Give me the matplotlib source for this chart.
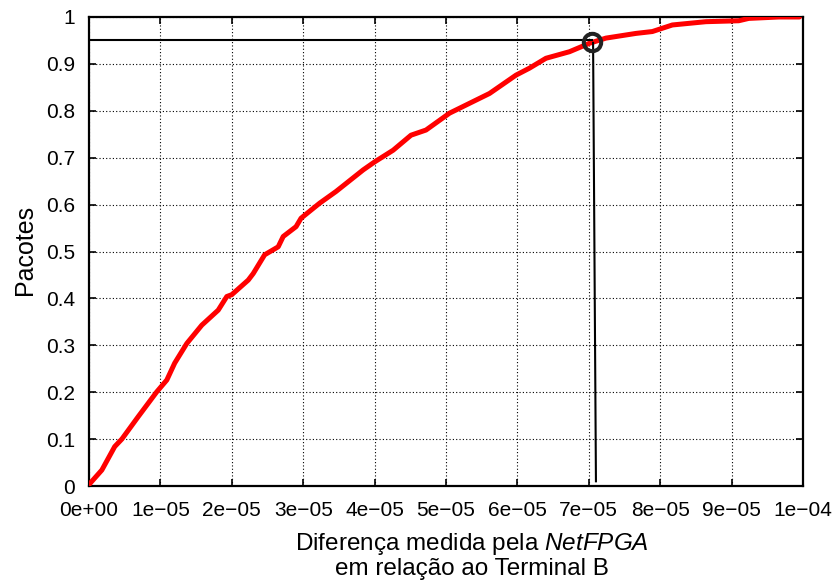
import numpy as np
import matplotlib
matplotlib.use('Agg')
import matplotlib.pyplot as plt

plt.rcParams['font.family'] = ['Liberation Sans', 'DejaVu Sans']
plt.rcParams['mathtext.fontset'] = 'custom'
plt.rcParams['mathtext.rm'] = 'Liberation Sans'
plt.rcParams['mathtext.it'] = 'Liberation Sans:italic'

# CDF (x in units of 1e-05)
diff_x = np.array([0.00, 0.04, 0.18, 0.36, 0.46, 0.69, 0.95, 1.09, 1.20, 1.37,
                   1.58, 1.81, 1.93, 2.00, 2.23, 2.30, 2.46, 2.65, 2.72, 2.90,
                   2.97, 3.23, 3.46, 3.84, 4.00, 4.26, 4.51, 4.72, 5.05, 5.33,
                   5.61, 5.98, 6.17, 6.40, 6.73, 7.01, 7.24, 7.66, 7.89, 8.17,
                   8.64, 9.10, 9.24, 9.66, 9.95]) * 1e-5
cdf = np.array([0.003, 0.010, 0.034, 0.084, 0.100, 0.148, 0.201, 0.226, 0.262, 0.304,
                0.343, 0.375, 0.404, 0.408, 0.439, 0.453, 0.493, 0.510, 0.532, 0.553,
                0.571, 0.603, 0.628, 0.674, 0.691, 0.716, 0.748, 0.759, 0.795, 0.816,
                0.837, 0.876, 0.891, 0.912, 0.926, 0.944, 0.955, 0.965, 0.969, 0.983,
                0.990, 0.992, 0.997, 1.000, 1.000])

# 95th percentile marker and guide lines
p95_x = 7.05e-5
p95_y = 0.946
hline_y = 0.95
vline_x = [7.06e-5, 7.10e-5]
vline_y = [0.945, 0.01]

xticks = np.arange(0, 11) * 1e-5
xtick_labels = ['0e+00'] + ['%de\u221205' % i for i in range(1, 10)] + ['1e\u221204']
yticks = np.arange(0, 11) / 10
ytick_labels = ['0'] + ['%.1f' % v for v in yticks[1:-1]] + ['1']

fig = plt.figure(figsize=(8.37, 5.81), dpi=100)
ax = fig.add_axes([89 / 837, 1 - 486 / 581, 714 / 837, 469 / 581])

ax.plot(diff_x, cdf, color='#ff0000', lw=3.6, zorder=3, solid_capstyle='round')
ax.plot([0, p95_x], [hline_y, hline_y], color='black', lw=1.5, zorder=4)
ax.plot(vline_x, vline_y, color='black', lw=1.5, zorder=4)
ax.plot([p95_x], [p95_y], 'o', ms=12.5, mfc='none', mec='#222222', mew=2.9, zorder=5)

ax.set_xlim(0, 1e-4)
ax.set_ylim(0, 1)
ax.set_xticks(xticks)
ax.set_xticklabels(xtick_labels)
ax.set_yticks(yticks)
ax.set_yticklabels(ytick_labels)
ax.tick_params(direction='in', length=5, width=1.2, top=True, right=True,
               labelsize=15, colors='black')
ax.tick_params(axis='y', pad=10)
ax.tick_params(axis='x', pad=11)
ax.grid(True, color='black', linestyle=(0, (1, 2)), linewidth=0.8)
for s in ax.spines.values():
    s.set_linewidth(1.6)

fig.text(25 / 837, 1 - 250 / 581, 'Pacotes', rotation=90, fontsize=18,
         ha='center', va='center')
fig.text(472 / 837, 1 - 550 / 581, 'Diferença medida pela $\\mathit{NetFPGA}$',
         fontsize=17.5, ha='center', va='baseline')
fig.text(472 / 837, 1 - 575 / 581, 'em relação ao Terminal B', fontsize=17.5,
         ha='center', va='baseline')

fig.savefig('out.png', dpi=100)
